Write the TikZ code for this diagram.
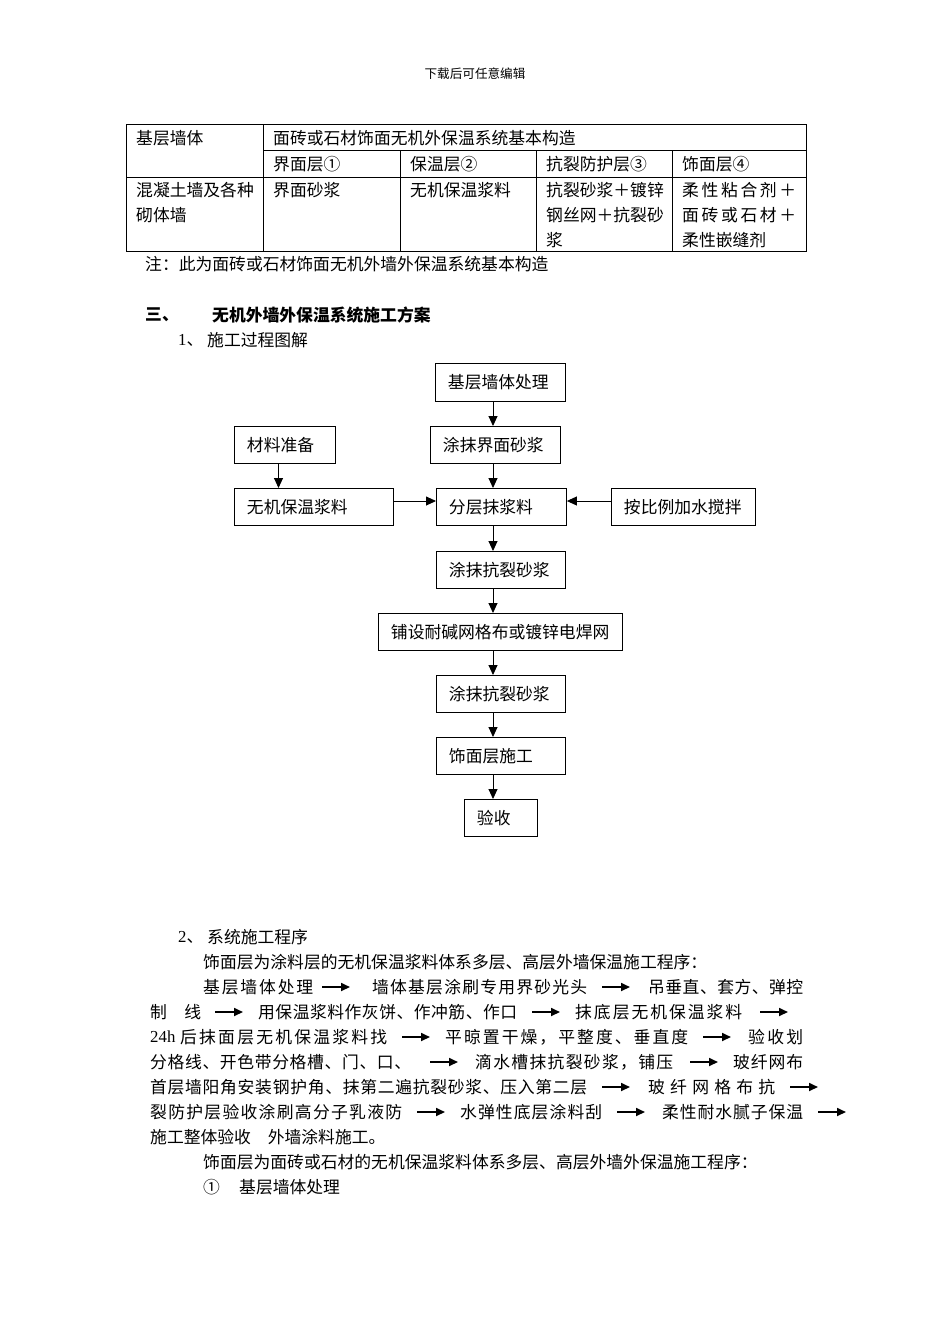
\documentclass[tikz,border=0pt]{standalone}
\usepackage{fontspec}
\setmainfont{Liberation Serif}
\newfontfamily\cjk{Noto Sans CJK SC}
\usetikzlibrary{arrows.meta,calc}
\makeatletter
\newcommand\sprd[2]{\makebox[#1][s]{\@tfor\sp@c:=#2\do{\sp@c\hfill}\unskip}}
\makeatother
\begin{document}
\begin{tikzpicture}[x=1pt,y=-1pt,
  t/.style={inner sep=0pt, anchor=west, font=\cjk\fontsize{16.8}{20}\selectfont},
  tb/.style={t, font=\cjk\bfseries\fontsize{16.8}{20}\selectfont},
  box/.style={draw, line width=0.9pt, anchor=north west, inner xsep=12.5pt, inner ysep=0pt,
              font=\cjk\fontsize{16.8}{20}\selectfont},
  arr/.style={line width=0.9pt, -{Triangle[length=10pt,width=9pt]}},
  tarr/.style={line width=1.7pt, -{Triangle[length=9pt,width=8pt]}},
  tbl/.style={line width=0.9pt}]
\fill[white] (0,0) rectangle (950,1344);
\useasboundingbox (0,0) rectangle (950,1344);

% header
\node[inner sep=0pt, font=\cjk\fontsize{12.6}{14}\selectfont] (hdr) at (475,74) {下载后可任意编辑};

% table
\draw[tbl] (126,124) rectangle (806,251);
\draw[tbl] (263,150) -- (806,150);
\draw[tbl] (126,177) -- (806,177);
\draw[tbl] (263,124) -- (263,251);
\draw[tbl] (400,150) -- (400,251);
\draw[tbl] (536,150) -- (536,251);
\draw[tbl] (672,150) -- (672,251);
\node[t] (c11) at (136,138) {基层墙体};
\node[t] (c12) at (273,138) {面砖或石材饰面无机外保温系统基本构造};
\node[t] (c21) at (273,164) {界面层①};
\node[t] (c22) at (410,164) {保温层②};
\node[t] (c23) at (546,164) {抗裂防护层③};
\node[t] (c24) at (682,164) {饰面层④};
\node[t] (c31) at (136,190) {混凝土墙及各种};
\node[t] (c31b) at (136,215) {砌体墙};
\node[t] (c32) at (273,190) {界面砂浆};
\node[t] (c33) at (410,190) {无机保温浆料};
\node[t] (c34) at (546,190) {抗裂砂浆＋镀锌};
\node[t] (c34b) at (546,215) {钢丝网＋抗裂砂};
\node[t] (c34c) at (546,240) {浆};
\node[t] (c35) at (682,190) {\sprd{114pt}{柔性粘合剂＋}};
\node[t] (c35b) at (682,215) {\sprd{114pt}{面砖或石材＋}};
\node[t] (c35c) at (682,240) {柔性嵌缝剂};
\node[t] (note) at (145,264) {注：此为面砖或石材饰面无机外墙外保温系统基本构造};

% section titles
\node[tb] (s3) at (145,315) {三、};
\node[tb] (s3t) at (212,315) {无机外墙外保温系统施工方案};
\node[t] (s31) at (178,340) {{\rmfamily 1}、};
\node[t] (s31t) at (207,340) {施工过程图解};

% flowchart
\node[box, minimum width=130pt, minimum height=38pt] (n1) at (435,363) {\makebox[105pt][l]{基层墙体处理}};
\node[box, minimum width=101pt, minimum height=37pt] (m1) at (234,426) {\makebox[76pt][l]{材料准备}};
\node[box, minimum width=130pt, minimum height=37pt] (n2) at (430,426) {\makebox[105pt][l]{涂抹界面砂浆}};
\node[box, minimum width=159pt, minimum height=37pt] (m2) at (234,488) {\makebox[134pt][l]{无机保温浆料}};
\node[box, minimum width=130pt, minimum height=37pt] (n3) at (436,488) {\makebox[105pt][l]{分层抹浆料}};
\node[box, minimum width=144pt, minimum height=37pt] (r1) at (611,488) {\makebox[119pt][l]{按比例加水搅拌}};
\node[box, minimum width=129pt, minimum height=37pt] (n4) at (436,551) {\makebox[104pt][l]{涂抹抗裂砂浆}};
\node[box, minimum width=244pt, minimum height=37pt] (n5) at (378,613) {\makebox[219pt][l]{铺设耐碱网格布或镀锌电焊网}};
\node[box, minimum width=129pt, minimum height=37pt] (n6) at (436,675) {\makebox[104pt][l]{涂抹抗裂砂浆}};
\node[box, minimum width=129pt, minimum height=37pt] (n7) at (436,737) {\makebox[104pt][l]{饰面层施工}};
\node[box, minimum width=73pt, minimum height=37pt] (n8) at (464,799) {\makebox[48pt][l]{验收}};

\coordinate (sp) at (493,0);
\coordinate (mx) at (278.5,0);
\coordinate (hr) at (0,501);
\draw[arr] (n1.south -| sp) -- (n2.north -| sp);
\draw[arr] (n2.south -| sp) -- (n3.north -| sp);
\draw[arr] (n3.south -| sp) -- (n4.north -| sp);
\draw[arr] (n4.south -| sp) -- (n5.north -| sp);
\draw[arr] (n5.south -| sp) -- (n6.north -| sp);
\draw[arr] (n6.south -| sp) -- (n7.north -| sp);
\draw[arr] (n7.south -| sp) -- (n8.north -| sp);
\draw[arr] (m1.south -| mx) -- (m2.north -| mx);
\draw[arr] (m2.east |- hr) -- (n3.west |- hr);
\draw[arr] (r1.west |- hr) -- (n3.east |- hr);

% section 2
\node[t] (s32) at (178,937) {{\rmfamily 2}、};
\node[t] (s32t) at (207,937) {系统施工程序};
\node[t] (q1) at (203,962) {饰面层为涂料层的无机保温浆料体系多层、高层外墙保温施工程序：};

\node[t] (p1a) at (203,987) {\sprd{110pt}{基层墙体处理}};
\node[t] (p1b) at (372,987) {\sprd{215pt}{墙体基层涂刷专用界砂光头}};
\node[t] (p1c) at (648,987) {\sprd{155pt}{吊垂直、套方、弹控}};
\draw[tarr] (322,987) -- (350,987);
\draw[tarr] (602,987) -- (630,987);

\node[t] (p2a) at (150,1012) {\sprd{51pt}{制线}};
\node[t] (p2b) at (258,1012) {\sprd{259pt}{用保温浆料作灰饼、作冲筋、作口}};
\node[t] (p2c) at (575,1012) {\sprd{167pt}{抹底层无机保温浆料}};
\draw[tarr] (215,1012) -- (243,1012);
\draw[tarr] (532,1012) -- (560,1012);
\draw[tarr] (760,1012) -- (788,1012);

\node[t] (p3a) at (150,1037) {{\rmfamily 24h}};
\node[t] (p3b) at (180,1037) {\sprd{207pt}{后抹面层无机保温浆料找}};
\node[t] (p3c) at (445,1037) {\sprd{243pt}{平晾置干燥，平整度、垂直度}};
\node[t] (p3d) at (748,1037) {\sprd{55pt}{验收划}};
\draw[tarr] (402,1037) -- (430,1037);
\draw[tarr] (703,1037) -- (731,1037);

\node[t] (p4a) at (150,1062) {\sprd{261pt}{分格线、开色带分格槽、门、口、}};
\node[t] (p4b) at (475,1062) {\sprd{198pt}{滴水槽抹抗裂砂浆，铺压}};
\node[t] (p4c) at (733,1062) {\sprd{70pt}{玻纤网布}};
\draw[tarr] (430,1062) -- (458,1062);
\draw[tarr] (690,1062) -- (718,1062);

\node[t] (p5a) at (150,1087) {\sprd{437pt}{首层墙阳角安装钢护角、抹第二遍抗裂砂浆、压入第二层}};
\node[t] (p5b) at (648,1087) {\sprd{127pt}{玻纤网格布抗}};
\draw[tarr] (602,1087) -- (630,1087);
\draw[tarr] (790,1087) -- (818,1087);

\node[t] (p6a) at (150,1112) {\sprd{252pt}{裂防护层验收涂刷高分子乳液防}};
\node[t] (p6b) at (460,1112) {\sprd{142pt}{水弹性底层涂料刮}};
\node[t] (p6c) at (662,1112) {\sprd{141pt}{柔性耐水腻子保温}};
\draw[tarr] (417,1112) -- (445,1112);
\draw[tarr] (617,1112) -- (645,1112);
\draw[tarr] (818,1112) -- (846,1112);

\node[t] (p7) at (150,1137) {施工整体验收　外墙涂料施工。};

\node[t] (q2) at (203,1162) {饰面层为面砖或石材的无机保温浆料体系多层、高层外墙外保温施工程序：};
\node[t] (q3) at (203,1187) {①};
\node[t] (q3t) at (239,1187) {基层墙体处理};
\end{tikzpicture}
\end{document}
